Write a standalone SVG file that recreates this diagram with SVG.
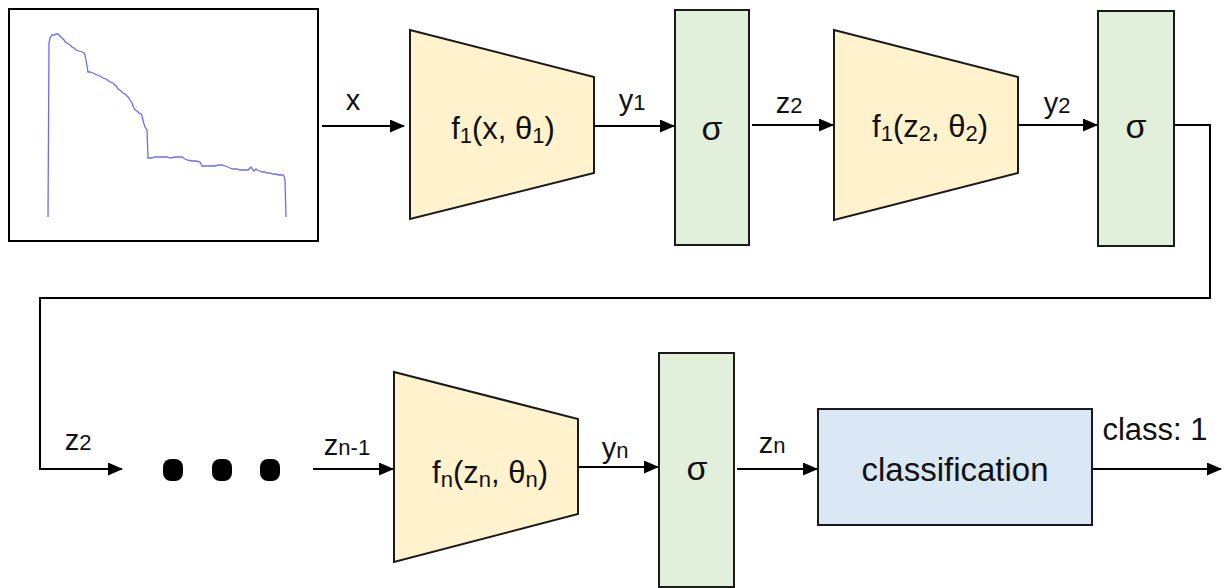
<svg xmlns="http://www.w3.org/2000/svg" width="1227" height="588" viewBox="0 0 1227 588">
<defs>
<style>
text{font-family:"Liberation Sans",Arial,sans-serif;fill:#111;text-anchor:middle}
.lbl{font-size:29px}
.main{font-size:31px}
.sg{font-size:34px}
.sub{font-size:22px}
.trap{fill:#fff2cc;stroke:#1a1a1a;stroke-width:2}
.sig{fill:#e2efda;stroke:#1a1a1a;stroke-width:2}
.cls{fill:#dae8f5;stroke:#1a1a1a;stroke-width:2}
.ln{fill:none;stroke:#000;stroke-width:2}
</style>
<marker id="ah" markerWidth="15" markerHeight="13" refX="14" refY="6.5" orient="auto" markerUnits="userSpaceOnUse">
<path d="M0,0 L15,6.5 L0,13 Z" fill="#000"/>
</marker>
</defs>
<rect width="1227" height="588" fill="#fff"/>

<g id="plot">
<rect x="9" y="9" width="309" height="232" fill="#fff" stroke="#000" stroke-width="2"/>
<polyline fill="none" stroke="#6b6bf5" stroke-width="1.3" points="48,217 49,43 50,38 52,35 54,35 56,34 58,34 60,36 62,38 64,40 65,42 67,43 70,45 72,47 74,48 76,50 79,51 82,52 84,53 85,55 86,60 87,66 88,72 90,72 93,73 95,74 97,75 100,76 103,78 106,79 110,82 113,83 115,85 117,87 118,89 121,91 123,93 125,94 127,96 129,98 130,100 132,103 133,106 134,108 135,110 137,111 139,113 141,114 142,116 143,120 144,124 145,127 147,130 148,158 152,158 155,157 159,157 163,157 167,157 170,158 176,157 182,157 185,159 187,160 192,161 196,161 200,162 201,164 202,166 206,166 210,166 215,166 219,165 222,165 225,166 228,167 230,168 233,169 237,169 240,170 244,170 248,170 250,168 251,167 253,170 254,171 256,169 257,170 260,171 262,172 265,172 267,173 270,173 273,174 275,174 279,175 283,175 284,176 285,180 286,217"/>
</g>

<g id="trap1">
<polygon class="trap" points="410,30 594,77 594,173 410,219"/>
<text class="main" x="503" y="139">f<tspan class="sub" dy="4">1</tspan><tspan dy="-4">(x, θ</tspan><tspan class="sub" dy="4">1</tspan><tspan dy="-4">)</tspan></text>
</g>
<g id="sigma1">
<rect class="sig" x="675" y="10" width="74" height="235"/>
<text class="sg" x="712" y="140">σ</text>
</g>
<g id="trap2">
<polygon class="trap" points="834,30 1018,77 1018,173 834,220"/>
<text class="main" x="930" y="137">f<tspan class="sub" dy="4">1</tspan><tspan dy="-4">(z</tspan><tspan class="sub" dy="4">2</tspan><tspan dy="-4">, θ</tspan><tspan class="sub" dy="4">2</tspan><tspan dy="-4">)</tspan></text>
</g>
<g id="sigma2">
<rect class="sig" x="1098" y="11" width="76" height="235"/>
<text class="sg" x="1136" y="138">σ</text>
</g>

<g id="dots">
<rect x="163" y="459" width="20" height="22" rx="8" fill="#000"/>
<rect x="212" y="459" width="20" height="22" rx="8" fill="#000"/>
<rect x="260" y="459" width="20" height="22" rx="8" fill="#000"/>
</g>

<g id="trapn">
<polygon class="trap" points="394,372 578,419 578,514 394,562"/>
<text class="main" x="490" y="483">f<tspan class="sub" dy="4">n</tspan><tspan dy="-4">(z</tspan><tspan class="sub" dy="4">n</tspan><tspan dy="-4">, θ</tspan><tspan class="sub" dy="4">n</tspan><tspan dy="-4">)</tspan></text>
</g>
<g id="sigman">
<rect class="sig" x="659" y="353" width="75" height="234"/>
<text class="sg" x="697" y="480">σ</text>
</g>
<g id="classification">
<rect class="cls" x="818" y="409" width="274" height="116"/>
<text x="955" y="481" style="font-size:33px">classification</text>
</g>

<g id="connectors">
<line class="ln" x1="322" y1="126" x2="404" y2="126" marker-end="url(#ah)"/>
<line class="ln" x1="594" y1="126" x2="674" y2="126" marker-end="url(#ah)"/>
<line class="ln" x1="752" y1="125" x2="833" y2="125" marker-end="url(#ah)"/>
<line class="ln" x1="1018" y1="125" x2="1097" y2="125" marker-end="url(#ah)"/>
<polyline class="ln" points="1174,125 1210,125 1210,298 40,298 40,469 122,469" marker-end="url(#ah)"/>
<line class="ln" x1="313" y1="469" x2="393" y2="469" marker-end="url(#ah)"/>
<line class="ln" x1="578" y1="467" x2="658" y2="467" marker-end="url(#ah)"/>
<line class="ln" x1="737" y1="469" x2="817" y2="469" marker-end="url(#ah)"/>
<line class="ln" x1="1092" y1="469" x2="1221" y2="469" marker-end="url(#ah)"/>
</g>

<g id="labels">
<text class="lbl" x="353" y="110">x</text>
<text class="lbl" x="632" y="110">y<tspan class="sub">1</tspan></text>
<text class="lbl" x="789" y="113">z<tspan class="sub">2</tspan></text>
<text class="lbl" x="1057" y="113">y<tspan class="sub">2</tspan></text>
<text class="lbl" x="78" y="450">z<tspan class="sub">2</tspan></text>
<text class="lbl" x="347" y="455">z<tspan class="sub">n-1</tspan></text>
<text class="lbl" x="615" y="458">y<tspan class="sub">n</tspan></text>
<text class="lbl" x="772" y="453">z<tspan class="sub">n</tspan></text>
<text x="1155" y="440" style="font-size:31px">class: 1</text>
</g>
</svg>
